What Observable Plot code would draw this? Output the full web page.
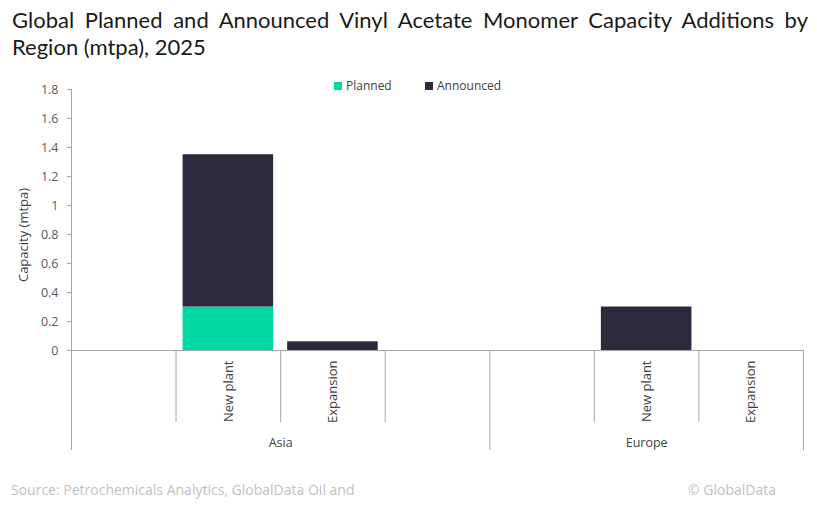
<!DOCTYPE html>
<html><head><meta charset="utf-8">
<script src="https://cdn.jsdelivr.net/npm/d3@7"></script>
<script src="https://cdn.jsdelivr.net/npm/@observablehq/plot@0.6"></script>
<style>
body{margin:0;background:#fff;width:817px;height:505px;position:relative;overflow:hidden;font-family:"Open Sans",sans-serif}
#title{position:absolute;left:12px;top:6px;width:796px;font-family:Lato,sans-serif;font-size:22px;line-height:27px;color:#1a1a1a;text-align:justify;text-align-last:left}
#legend{position:absolute;top:78px;left:0;width:817px;height:16px;font-size:12px;color:#404040}
#legend .item{position:absolute;top:0;white-space:nowrap;line-height:16px}
#legend .sw{display:inline-block;width:8px;height:8px;margin-right:4px;vertical-align:0px}
#chart{position:absolute;left:0;top:70px}
#source{position:absolute;left:11px;top:480px;font-size:14px;color:#bfbfbf}
#copy{position:absolute;left:688px;top:480px;font-size:14px;color:#bfbfbf}
</style>
</head><body>
<div id="title">Global Planned and Announced Vinyl Acetate Monomer Capacity Additions by Region (mtpa), 2025</div>
<div id="legend"></div>
<div id="chart"></div>
<div id="source">Source: Petrochemicals Analytics, GlobalData Oil and</div>
<div id="copy">© GlobalData</div>
<script>
const regions = ["Asia", "Asia", "Asia", "Asia", "Europe", "Europe", "Europe"];
const categories = ["", "New plant", "Expansion", "", "", "New plant", "Expansion"];
const planned = [0, 0.3, 0, 0, 0, 0, 0];
const announced = [0, 1.05, 0.06, 0, 0, 0.3, 0];
const series = ["Planned", "Announced"];
const colors = ["#00d9a3", "#2e2a3d"];
const yTicks = [0, 0.2, 0.4, 0.6, 0.8, 1, 1.2, 1.4, 1.6, 1.8];
const yLabel = "Capacity (mtpa)";

// legend
const legend = document.getElementById("legend");
const legendX = [334, 425];
series.forEach((s, k) => {
  const it = document.createElement("div");
  it.className = "item";
  it.style.left = legendX[k] + "px";
  it.innerHTML = `<span class="sw" style="background:${colors[k]}"></span>${s}`;
  legend.appendChild(it);
});

// stacked rows
const rows = [];
categories.forEach((c, i) => {
  let base = 0;
  [planned[i], announced[i]].forEach((v, k) => {
    if (v > 0) rows.push({slot: i, series: series[k], y1: base, y2: base + v});
    base += v;
  });
});
const n = categories.length;
const edges = d3.range(n + 1);
const groupEdges = edges.filter(b => b === 0 || b === n || regions[b] !== regions[b - 1]);
const innerEdges = edges.filter(b => !groupEdges.includes(b));
const regionNames = [...new Set(regions)];
const regionLabels = regionNames.map(r => {
  const s = regions.indexOf(r), e = regions.lastIndexOf(r) + 1;
  return {name: r, x: (s + e) / 2};
});
const catLabels = categories.map((c, i) => ({name: c, x: i + 0.5})).filter(d => d.name);

const lineColor = "#a6a6a6";
const plot = Plot.plot({
  width: 817,
  height: 390,
  marginLeft: 71,
  marginRight: 14,
  marginTop: 19,
  marginBottom: 110,
  style: {fontFamily: "Open Sans", fontSize: "12px", color: "#595959", background: "transparent", overflow: "visible"},
  x: {domain: [0, n], axis: null},
  y: {domain: [0, 1.8], axis: null},
  color: {domain: series, range: colors},
  marks: [
    Plot.rect(rows, {x1: d => d.slot, x2: d => d.slot + 1, y1: "y1", y2: "y2", fill: "series", insetLeft: 7, insetRight: 7}),
    Plot.ruleY([0], {stroke: lineColor}),
    Plot.ruleX(innerEdges, {x: d => d, y1: 0, y2: 0, insetBottom: -72, stroke: lineColor}),
    Plot.ruleX(groupEdges.filter(b => b !== 0), {x: d => d, y1: 0, y2: 0, insetBottom: -100, stroke: lineColor}),
    Plot.ruleX([0], {y1: 1.8, y2: 0, insetBottom: -100, stroke: lineColor}),
    Plot.axisY({ticks: yTicks, tickSize: 4, tickPadding: 9, tickFormat: d => String(+d.toFixed(1)), label: null, stroke: lineColor, fill: "#595959", fontSize: 12.5}),
    Plot.text(catLabels, {x: "x", y: 0, text: "name", rotate: -90, textAnchor: "end", dy: 10, fill: "#404040", fontSize: 13}),
    Plot.text(regionLabels, {x: "x", y: 0, text: "name", dy: 92, fill: "#404040", fontSize: 12.5}),
    Plot.text([yLabel], {frameAnchor: "left", text: d => d, textAnchor: "middle", rotate: -90, dx: -48, dy: 15, fill: "#404040", fontSize: 13})
  ]
});
document.getElementById("chart").appendChild(plot);
</script>
</body></html>
